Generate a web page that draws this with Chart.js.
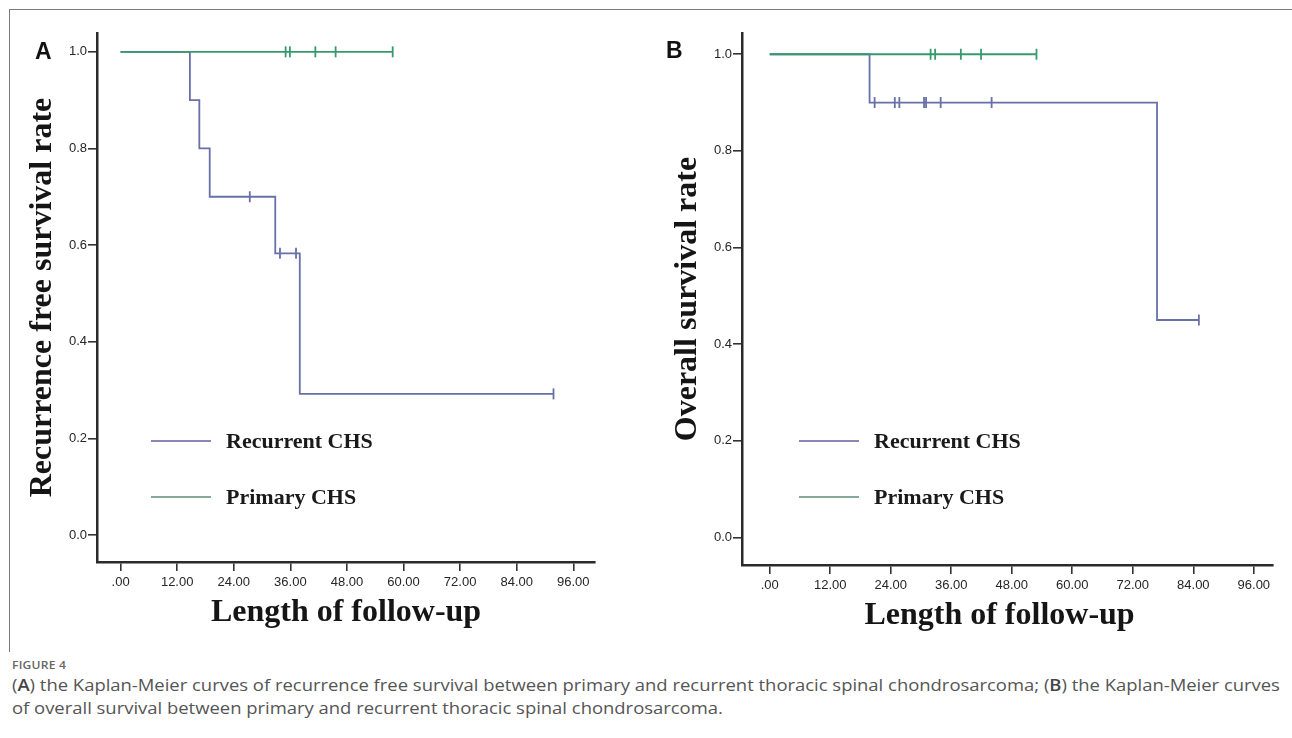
<!DOCTYPE html>
<html><head><meta charset="utf-8">
<script src="https://cdn.jsdelivr.net/npm/chart.js@4.4.1/dist/chart.umd.min.js"></script>
<style>
html,body{margin:0;padding:0;background:#fff;width:1292px;height:738px;overflow:hidden;}
#wrap{position:relative;width:1292px;height:738px;background:#fff;}
canvas{position:absolute;top:0;}
#frameTop{position:absolute;left:9px;top:9px;width:1283px;height:1px;background:#7a7a7a;}
#frameLeft{position:absolute;left:9px;top:9px;width:1px;height:643px;background:#7a7a7a;}
.plabel{position:absolute;font:bold 23px "Liberation Sans",Arial,sans-serif;line-height:23px;color:#111;}
.lgl{position:absolute;height:2px;width:60px;}
.lgt{position:absolute;font:bold 22px "Liberation Serif","Times New Roman",serif;line-height:24px;color:#1a1a1a;white-space:nowrap;}
#fig{position:absolute;left:12px;top:657px;font:600 11px/15px "Open Sans",sans-serif;color:#666;letter-spacing:0.2px;transform:scaleX(1.1);transform-origin:0 0;}
#cap{position:absolute;left:12px;top:674px;font:16px/23px "Open Sans",sans-serif;color:#555;white-space:nowrap;transform:scaleX(1.152);transform-origin:0 0;}
#cap b{font-weight:600;color:#444;}
</style>
</head>
<body>
<div id="wrap">
  <div id="frameTop"></div><div id="frameLeft"></div>
  <canvas id="cA" width="640" height="650" style="left:0px"></canvas>
  <canvas id="cB" width="648" height="650" style="left:644px"></canvas>
  <div class="plabel" style="left:35px;top:40px">A</div>
  <div class="plabel" style="left:666px;top:39px">B</div>
  <div id="legA"></div>
  <div id="legB"></div>
  <div id="fig">FIGURE 4</div>
  <div id="cap">(<b>A</b>) the Kaplan-Meier curves of recurrence free survival between primary and recurrent thoracic spinal chondrosarcoma; (<b>B</b>) the Kaplan-Meier curves<br>of overall survival between primary and recurrent thoracic spinal chondrosarcoma.</div>
</div>
<script>
// ---- tick labels ----
const xTicks = [0, 12, 24, 36, 48, 60, 72, 84, 96];
const yTicks = [0, 0.2, 0.4, 0.6, 0.8, 1.0];
const seriesNames = ['Recurrent CHS', 'Primary CHS'];

// ---- Panel A: recurrence free survival ----
const rfsRecTime = [0, 14.7, 16.7, 18.9, 32.8, 38.0, 91.8];
const rfsRecSurv = [1.0, 0.9, 0.8, 0.7, 0.583, 0.292, 0.292];
const rfsRecCensTime = [27.4, 33.8, 37.2, 91.8];
const rfsRecCensSurv = [0.7, 0.583, 0.583, 0.292];
const rfsPriTime = [0, 57.7];
const rfsPriSurv = [1.0, 1.0];
const rfsPriCensTime = [35.0, 35.9, 41.3, 45.6, 57.7];
const rfsPriCensSurv = [1.0, 1.0, 1.0, 1.0, 1.0];

// ---- Panel B: overall survival ----
const osRecTime = [0, 19.8, 76.8, 85.1];
const osRecSurv = [1.0, 0.9, 0.45, 0.45];
const osRecCensTime = [20.8, 24.8, 25.7, 30.6, 31.0, 33.9, 44.0, 85.1];
const osRecCensSurv = [0.9, 0.9, 0.9, 0.9, 0.9, 0.9, 0.9, 0.45];
const osPriTime = [0, 52.9];
const osPriSurv = [1.0, 1.0];
const osPriCensTime = [31.9, 32.8, 37.9, 41.9, 52.9];
const osPriCensSurv = [1.0, 1.0, 1.0, 1.0, 1.0];

const recColor = '#6870a8';
const priColor = '#389a6b';
const recLegColor = '#8a86b8';
const priLegColor = '#86aa9a';

function zip(t, s) { return t.map((x, i) => ({x: x, y: s[i]})); }

function makeChart(id, c) {
  const datasets = [
    {label: seriesNames[1], data: zip(c.priT, c.priS), showLine: true, stepped: true,
     borderColor: priColor, borderWidth: 1.8, pointRadius: 0, fill: false, order: 1},
    {label: seriesNames[1] + ' censored', data: zip(c.priCT, c.priCS), showLine: false,
     pointStyle: 'line', rotation: 90, pointRadius: 5.5, borderColor: priColor, borderWidth: 1.8, order: 0},
    {label: seriesNames[0], data: zip(c.recT, c.recS), showLine: true, stepped: true,
     borderColor: recColor, borderWidth: 1.8, pointRadius: 0, fill: false, order: 3},
    {label: seriesNames[0] + ' censored', data: zip(c.recCT, c.recCS), showLine: false,
     pointStyle: 'line', rotation: 90, pointRadius: 5.5, borderColor: recColor, borderWidth: 1.8, order: 2}
  ];
  const tickFont = {family: '"Liberation Sans", Arial, sans-serif', size: 13};
  const titleFont = {family: '"Liberation Serif", "Times New Roman", serif', size: 32, weight: 'bold'};
  return new Chart(document.getElementById(id), {
    type: 'scatter',
    data: {datasets: datasets},
    options: {
      responsive: false, animation: false, devicePixelRatio: 1,
      layout: {padding: {left: 0, top: 33, right: c.padRight, bottom: 0}},
      plugins: {legend: {display: false}, tooltip: {enabled: false}},
      scales: {
        x: {
          type: 'linear', min: c.xmin, max: c.xmax,
          afterBuildTicks: s => { s.ticks = xTicks.map(v => ({value: v})); },
          afterFit: s => { s.height = c.xh; },
          grid: {display: true, drawOnChartArea: false, drawTicks: true, tickLength: 9, color: '#333', lineWidth: 1.6},
          border: {display: true, color: '#2a2a2a', width: 2.5},
          ticks: {color: '#262626', font: tickFont, padding: 4, maxRotation: 0, autoSkip: false,
                  callback: v => v === 0 ? '.00' : v.toFixed(2)},
          title: {display: true, text: c.xTitle, color: '#151515', font: titleFont, padding: {top: 0, bottom: c.xTitlePad}}
        },
        y: {
          type: 'linear', min: c.ymin, max: c.ymax,
          afterBuildTicks: s => { s.ticks = yTicks.map(v => ({value: v})); },
          afterFit: s => { s.width = c.yw; },
          grid: {display: true, drawOnChartArea: false, drawTicks: true, tickLength: 9, color: '#333', lineWidth: 1.6},
          border: {display: true, color: '#2a2a2a', width: 2.5},
          ticks: {color: '#262626', font: tickFont, padding: 1, autoSkip: false,
                  callback: v => v.toFixed(1)},
          title: {display: true, text: c.yTitle, color: '#151515', font: titleFont, padding: {top: c.yTitlePad, bottom: 0}}
        }
      }
    }
  });
}

makeChart('cA', {
  recT: rfsRecTime, recS: rfsRecSurv, recCT: rfsRecCensTime, recCS: rfsRecCensSurv,
  priT: rfsPriTime, priS: rfsPriSurv, priCT: rfsPriCensTime, priCS: rfsPriCensSurv,
  xmin: -5.0, xmax: 100.6, ymin: -0.056, ymax: 1.039,
  padRight: 45, xh: 88, yw: 97, xTitlePad: 18, yTitlePad: 24,
  xTitle: 'Length of follow-up', yTitle: 'Recurrence free survival rate'
});
makeChart('cB', {
  recT: osRecTime, recS: osRecSurv, recCT: osRecCensTime, recCS: osRecCensSurv,
  priT: osPriTime, priS: osPriSurv, priCT: osPriCensTime, priCS: osPriCensSurv,
  xmin: -5.5, xmax: 99.8, ymin: -0.057, ymax: 1.044,
  padRight: 19, xh: 85, yw: 98, xTitlePad: 15, yTitlePad: 25,
  xTitle: 'Length of follow-up\u00a0\u00a0', yTitle: 'Overall survival rate'
});

// ---- legends (HTML) ----
function legend(el, x0, y1, y2) {
  const rows = [[seriesNames[0], recLegColor, y1], [seriesNames[1], priLegColor, y2]];
  rows.forEach(r => {
    const l = document.createElement('div');
    l.className = 'lgl'; l.style.left = x0 + 'px'; l.style.top = (r[2] - 1) + 'px'; l.style.background = r[1];
    const t = document.createElement('div');
    t.className = 'lgt'; t.style.left = (x0 + 75) + 'px'; t.style.top = (r[2] - 12.5) + 'px'; t.textContent = r[0];
    el.appendChild(l); el.appendChild(t);
  });
}
legend(document.getElementById('legA'), 151, 441, 497);
legend(document.getElementById('legB'), 799, 441, 497);
</script>
</body></html>
